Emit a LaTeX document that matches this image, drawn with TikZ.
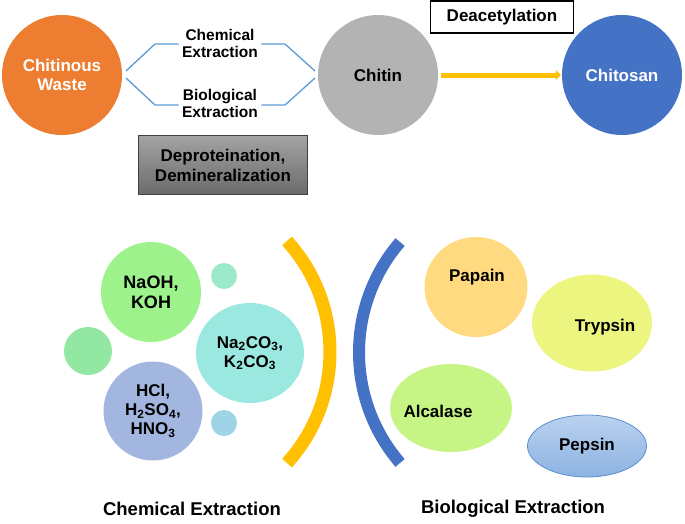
\documentclass[tikz,border=0pt]{standalone}
\usepackage{fontspec}
\setmainfont{Liberation Sans}
\usetikzlibrary{arrows.meta,shapes.geometric}
\definecolor{cOrange}{HTML}{ED7D31}
\definecolor{cGray}{HTML}{B3B3B3}
\definecolor{cBlue}{HTML}{4472C4}
\definecolor{cYellow}{HTML}{FFC000}
\definecolor{cLine}{HTML}{5B9BD5}
\definecolor{cNaOH}{HTML}{9EF28C}
\definecolor{cNaCO}{HTML}{9AE8E0}
\definecolor{cHCl}{HTML}{A3B6E0}
\definecolor{cSmA}{HTML}{9CE8CA}
\definecolor{cSmB}{HTML}{92E8A2}
\definecolor{cSmC}{HTML}{9FD4E6}
\definecolor{cPapain}{HTML}{FFDA80}
\definecolor{cTrypsin}{HTML}{EBF57F}
\definecolor{cAlcalase}{HTML}{C6F585}
\definecolor{cPepT}{HTML}{BAD2EF}
\definecolor{cPepB}{HTML}{8DB2E2}
\definecolor{cPepD}{HTML}{5B8FD0}
\tikzset{
  big/.style={circle,minimum size=120pt,inner sep=0pt,align=center,font=\fontsize{17}{19}\selectfont\bfseries},
  lbl/.style={align=center,font=\fontsize{15.5}{17}\selectfont\bfseries},
  blob/.style={ellipse,inner sep=0pt,align=center,font=\fontsize{17}{19}\selectfont\bfseries},
  conn/.style={draw=cLine,line width=1.3pt},
  title/.style={font=\fontsize{18.5}{21}\selectfont\bfseries}
}
\begin{document}
\begin{tikzpicture}[x=1pt,y=-1pt]
\useasboundingbox (0,0) rectangle (685,523);
% top row
\node[big,fill=cOrange,text=white] (waste) at (62,75) {Chitinous\\Waste};
\node[big,fill=cGray] (chitin) at (378,75) {Chitin};
\node[big,fill=cBlue,text=white] (chitosan) at (622,75) {Chitosan};
\node[lbl] (chem) at (220,43) {Chemical\\Extraction};
\node[lbl] (bio) at (220,103) {Biological\\Extraction};
\node[draw=black,line width=1.2pt,minimum width=143pt,minimum height=32pt,font=\fontsize{17}{19}\selectfont\bfseries] (deac) at (502,17) {Deacetylation};
\node[draw=black!75,line width=1pt,top color=black!36,bottom color=black!58,minimum width=169pt,minimum height=59pt,align=center,font=\fontsize{17}{20}\selectfont\bfseries] (dep) at (223,165) {Deproteination,\\Demineralization};
\coordinate (wU) at (126,71); \coordinate (wD) at (126,78);
\coordinate (cU) at (315,71); \coordinate (cD) at (315,78);
\draw[conn] (wU) -- (155,44) -- (chem.west |- 0,44);
\draw[conn] (chem.east |- 0,44) -- (285,44) -- (cU);
\draw[conn] (wD) -- (155,105) -- (bio.west |- 0,105);
\draw[conn] (bio.east |- 0,105) -- (285,105) -- (cD);
\draw[cYellow,line width=5pt,-{Triangle[length=5pt,width=10pt]}] ([xshift=3pt]chitin.east) -- ([xshift=-1pt]chitosan.west);
% bottom left
\node[blob,circle,minimum size=100pt,fill=cNaOH,font=\fontsize{18}{20}\selectfont\bfseries] (naoh) at (151,292) {NaOH,\\KOH};
\node[blob,circle,minimum size=26pt,fill=cSmA] (sa) at (224,276) {};
\node[blob,circle,minimum size=48pt,fill=cSmB] (sb) at (88,351) {};
\node[blob,minimum width=108pt,minimum height=100pt,fill=cNaCO,font=\fontsize{17}{19}\selectfont\bfseries] (naco) at (250,353) {Na\textsubscript{2}CO\textsubscript{3},\\K\textsubscript{2}CO\textsubscript{3}};
\node[blob,circle,minimum size=99pt,fill=cHCl,font=\fontsize{17}{19}\selectfont\bfseries] (hcl) at (153,411) {HCl,\\H\textsubscript{2}SO\textsubscript{4},\\HNO\textsubscript{3}};
\node[blob,circle,minimum size=26pt,fill=cSmC] (sc) at (224,423) {};
\draw[cYellow,line width=13pt] (165,352) ++(-42.3:165) arc[start angle=-42.3,end angle=42.3,radius=165];
% bottom right
\draw[cBlue,line width=12pt] (528,352.5) ++(139.2:169) arc[start angle=139.2,end angle=220.8,radius=169];
\node[blob,minimum width=103pt,minimum height=100pt,fill=cPapain] (papain) at (476,287) {};
\node[font=\fontsize{17}{19}\selectfont\bfseries] at (477,277) {Papain};
\node[blob,minimum width=120pt,minimum height=97pt,fill=cTrypsin] (trypsin) at (592,323) {};
\node[font=\fontsize{17}{19}\selectfont\bfseries] at (605,327) {Trypsin};
\node[blob,minimum width=122pt,minimum height=88pt,fill=cAlcalase] (alcalase) at (451,408) {};
\node[font=\fontsize{17}{19}\selectfont\bfseries] at (438,411) {Alcalase};
\node[blob,minimum width=119pt,minimum height=62pt,top color=cPepT,bottom color=cPepB,draw=cPepD,line width=0.8pt] (pepsin) at (587,446) {Pepsin};
% titles
\node[title] (tchem) at (192,509) {Chemical Extraction};
\node[title] (tbio) at (513,509) {Biological Extraction};
\end{tikzpicture}
\end{document}
